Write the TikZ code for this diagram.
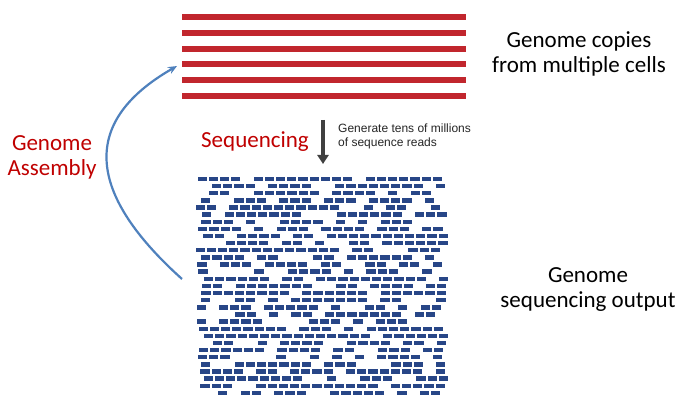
\documentclass[tikz,border=0pt]{standalone}
\usepackage{fontspec}
\setmainfont{Carlito}
\newfontfamily\smallsans{Liberation Sans}
\usetikzlibrary{arrows.meta}
\definecolor{stripered}{RGB}{193,38,45}
\definecolor{labelred}{RGB}{192,0,0}
\definecolor{readblue}{RGB}{40,70,135}
\definecolor{curveblue}{RGB}{79,129,189}
\definecolor{arrowgray}{RGB}{64,64,64}
\tikzset{
  stripe/.style={line width=6pt, stripered},
  readdash/.style={fill=readblue, draw=none},
  bigtext/.style={font=\fontsize{23}{27}\selectfont, inner sep=0pt, anchor=base},
  redtext/.style={bigtext, text=labelred},
  smalltext/.style={font=\smallsans\fontsize{12}{14}\selectfont, inner sep=0pt, anchor=base west, text=black!85},
}
\begin{document}
\begin{tikzpicture}[x=1pt,y=-1pt]
\useasboundingbox[fill=white] (0,0) rectangle (689,406);
% genome copies (stripes)
\foreach \yy in {17.5,33.2,48.9,64.5,80.1,95.6}{
  \draw[stripe] (182,\yy) -- (466,\yy);
}
% reads
\pgfmathsetseed{4242}
\foreach \r in {0,...,30}{
  \pgfmathsetmacro{\ry}{179+\r*7.13}
  \pgfmathsetmacro{\off}{195+rnd*9}
  \foreach \c in {0,...,21}{
    \pgfmathsetmacro{\keep}{rnd}
    \ifdim\keep pt<0.74pt
      \pgfmathsetmacro{\rx}{\off+\c*11.2}
      \fill[readdash] (\rx,\ry-2.2) rectangle ++(9.2,4.4);
    \fi
  }
}
% texts
\node[bigtext] (gc1) at (579,48) {Genome copies};
\node[bigtext] (gc2) at (579,73) {from multiple cells};
\node[bigtext] (gs1) at (588,283) {Genome};
\node[bigtext] (gs2) at (588,308) {sequencing output};
\node[redtext] (ga1) at (52,151) {Genome};
\node[redtext] (ga2) at (52,176) {Assembly};
\node[redtext] (seq) at (255,148) {Sequencing};
\node[smalltext] (gen1) at (338,133) {Generate tens of millions};
\node[smalltext] (gen2) at (338,147) {of sequence reads};
% sequencing arrow
\coordinate (sa) at (323,120);
\coordinate (sb) at (323,164);
\draw[arrowgray, line width=4pt, -{Triangle[length=9pt,width=11pt]}] (sa) -- (sb);
% assembly curve
\coordinate (cs) at (182,279);
\coordinate (ce) at (177,66);
\draw[curveblue, line width=2.2pt, -{Stealth[length=9pt,width=7.5pt]}] (cs) .. controls (83,190) and (83,120) .. (ce);
\end{tikzpicture}
\end{document}
